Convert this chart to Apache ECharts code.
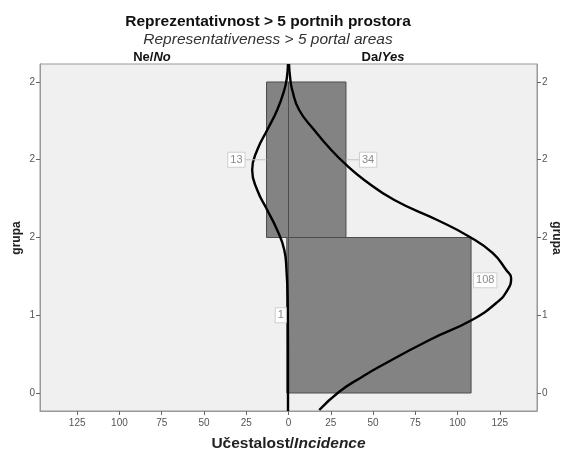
<!DOCTYPE html>
<html><head><meta charset="utf-8">
<script src="https://cdn.jsdelivr.net/npm/echarts@6/dist/echarts.min.js"></script>
<style>html,body{margin:0;padding:0;background:#fff}#c{width:566px;height:452px}</style>
</head><body><div id="c"></div>
<script>
// ---- data ----
const groupNames = ['Ne/No', 'Da/Yes'];
const binEdges = [[0, 2], [2, 4]];          // grupa bins (bottom, top)
const countsNe = [1, 13];
const countsDa = [108, 34];
const yTickValues = [0, 1, 2, 3, 4];
const yTickLabels = ['0', '1', '2', '2', '2'];
const xTickValues = [-125, -100, -75, -50, -25, 0, 25, 50, 75, 100, 125];
// normal curves (count, grupa)
const curveNeY = [4.23, 4.05, 3.897, 3.64, 3.383, 3.125, 2.868, 2.611, 2.354, 2.097, 1.839, 1.582, 1.196, 0.553, -0.23];
const curveNeX = [0.3, 1.0, 2.5, 6.7, 12.6, 18.5, 21.5, 18.5, 12.6, 6.7, 2.5, 1.2, 0.5, 0.3, 0.3];
const curveDaY = [4.23, 4.05, 3.897, 3.64, 3.383, 3.125, 2.933, 2.740, 2.482, 2.225, 2.010, 1.801, 1.582, 1.479, 1.325, 1.158, 0.939, 0.682, 0.338, 0.210, 0.017, -0.219];
const curveDaX = [0.3, 1.0, 2.2, 6.3, 15.2, 25.3, 34.2, 44.8, 62.6, 88, 107, 120.7, 128.8, 131.7, 129.6, 122.9, 108.5, 83.4, 53.7, 43.7, 30, 18.2];

// ---- presentation ----
const FONT = 'Liberation Sans, Arial, sans-serif';
const labelOffsets = { ne: [[-1, 0], [-22, 0]], da: [[3, -35], [14, 0]] };

const bars = [];
binEdges.forEach((b, i) => {
  bars.push([-countsNe[i], 0, b[0], b[1], countsNe[i], 0, i]);
  bars.push([0, countsDa[i], b[0], b[1], countsDa[i], 1, i]);
});
const neLine = curveNeY.map((y, i) => [-curveNeX[i], y]);
const daLine = curveDaY.map((y, i) => [curveDaX[i], y]);

const chart = echarts.init(document.getElementById('c'));
const yLabelFmt = v => { const k = yTickValues.indexOf(Math.round(v)); return k >= 0 ? yTickLabels[k] : ''; };
const yAxisBase = {
  type: 'value', min: -0.2315, max: 4.2315,
  splitLine: { show: false },
  axisLine: { show: true, onZero: false, lineStyle: { color: '#999' } },
  axisTick: { show: true, customValues: yTickValues, length: 4, lineStyle: { color: '#666' } },
  axisLabel: { customValues: yTickValues, formatter: yLabelFmt, fontSize: 10, color: '#555', fontFamily: FONT, margin: 5 }
};
const nameFont = 'bold 12px ' + FONT;

chart.setOption({
  animation: false,
  grid: { left: 40, right: 29, top: 64, bottom: 41, containLabel: false, outerBoundsMode: 'none',
    show: true, backgroundColor: '#f0f0f0', borderColor: '#999', borderWidth: 1 },
  xAxis: {
    type: 'value', min: -147, max: 147,
    splitLine: { show: false },
    axisLine: { show: true, onZero: false, lineStyle: { color: '#999' } },
    axisTick: { show: true, customValues: xTickValues, length: 4, lineStyle: { color: '#666' } },
    axisLabel: { customValues: xTickValues, formatter: v => String(Math.abs(Math.round(v))), fontSize: 10, color: '#555', fontFamily: FONT, margin: 7 },
    name: '{a|Učestalost/}{b|Incidence}', nameLocation: 'middle', nameGap: 25,
    nameTextStyle: { rich: {
      a: { fontSize: 15.5, fontWeight: 'bold', color: '#222', fontFamily: FONT },
      b: { fontSize: 15.5, fontWeight: 'bold', fontStyle: 'italic', color: '#222', fontFamily: FONT }
    } }
  },
  yAxis: [
    Object.assign({}, yAxisBase, { position: 'left' }),
    Object.assign({}, yAxisBase, { position: 'right' })
  ],
  graphic: [
    { type: 'text', x: 268, y: 22, style: { text: 'Reprezentativnost > 5 portnih prostora', font: 'bold 15.5px ' + FONT, fill: '#111', textAlign: 'center', textVerticalAlign: 'middle' } },
    { type: 'text', x: 268, y: 40, style: { text: 'Representativeness > 5 portal areas', font: 'italic 15.5px ' + FONT, fill: '#333', textAlign: 'center', textVerticalAlign: 'middle' } },
    { type: 'text', x: 152, y: 57, style: { text: '{a|Ne/}{b|No}', rich: { a: { font: 'bold 13px ' + FONT, fill: '#111' }, b: { font: 'italic bold 13px ' + FONT, fill: '#111' } }, textAlign: 'center', textVerticalAlign: 'middle' } },
    { type: 'text', x: 383, y: 57, style: { text: '{a|Da/}{b|Yes}', rich: { a: { font: 'bold 13px ' + FONT, fill: '#111' }, b: { font: 'italic bold 13px ' + FONT, fill: '#111' } }, textAlign: 'center', textVerticalAlign: 'middle' } },
    { type: 'text', x: 17, y: 238, rotation: Math.PI / 2, style: { text: 'grupa', font: nameFont, fill: '#222', textAlign: 'center', textVerticalAlign: 'middle' } },
    { type: 'text', x: 556, y: 238, rotation: -Math.PI / 2, style: { text: 'grupa', font: nameFont, fill: '#222', textAlign: 'center', textVerticalAlign: 'middle' } }
  ],
  series: [
    {
      type: 'custom', name: 'bars', z: 2, data: bars, clip: true,
      renderItem(params, api) {
        const p0 = api.coord([api.value(0), api.value(3)]);
        const p1 = api.coord([api.value(1), api.value(2)]);
        return { type: 'rect', shape: { x: p0[0], y: p0[1], width: p1[0] - p0[0], height: p1[1] - p0[1] },
          style: { fill: '#838383', stroke: '#4d4d4d', lineWidth: 1 } };
      }
    },
    {
      type: 'line', name: groupNames[0], data: neLine, z: 3, smooth: 0.5, showSymbol: false, symbol: 'none',
      lineStyle: { color: '#000', width: 2.4 }
    },
    {
      type: 'line', name: groupNames[1], data: daLine, z: 3, smooth: 0.5, showSymbol: false, symbol: 'none',
      lineStyle: { color: '#000', width: 2.4 }
    },
    {
      type: 'custom', name: 'labels', z: 5, data: bars,
      renderItem(params, api) {
        const side = api.value(5), bin = api.value(6), cnt = api.value(4);
        const xEnd = side === 0 ? api.value(0) : api.value(1);
        const yMid = (api.value(2) + api.value(3)) / 2;
        const p = api.coord([xEnd, yMid]);
        const off = (side === 0 ? labelOffsets.ne : labelOffsets.da)[bin];
        const tx = p[0] + off[0], ty = p[1] + off[1];
        const children = [];
        if (Math.abs(off[0]) > 6 && off[1] === 0) {
          children.push({ type: 'line', shape: { x1: p[0], y1: p[1], x2: tx, y2: ty }, style: { stroke: '#c4c4c4', lineWidth: 1 } });
        }
        children.push({ type: 'text', x: tx, y: ty, style: {
          text: String(cnt), font: '11px ' + FONT, fill: '#8a8a8a',
          textAlign: side === 0 ? 'right' : 'left', textVerticalAlign: 'middle',
          backgroundColor: '#fff', borderColor: '#cfcfcf', borderWidth: 1, padding: [2, 2, 1, 2]
        } });
        return { type: 'group', children };
      }
    }
  ]
});
</script>
</body></html>
